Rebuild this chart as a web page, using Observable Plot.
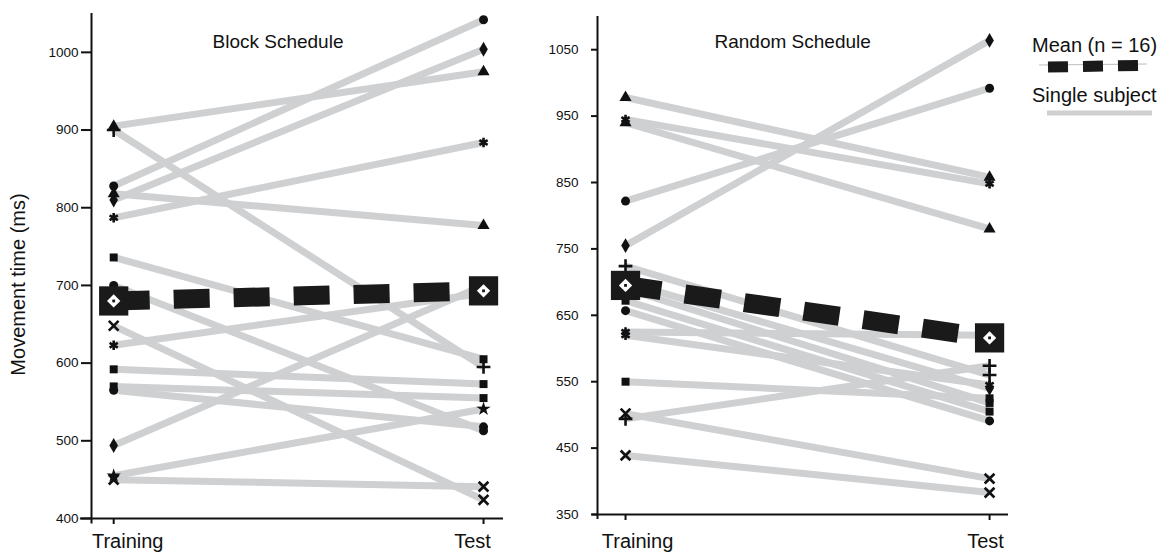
<!DOCTYPE html>
<html><head><meta charset="utf-8">
<script src="https://cdn.jsdelivr.net/npm/d3@7"></script>
<script src="https://cdn.jsdelivr.net/npm/@observablehq/plot@0.6"></script>
<style>
html,body{margin:0;padding:0;background:#fff;}
#wrap{position:relative;width:1167px;height:553px;overflow:hidden;font-family:"Liberation Sans",Arial,sans-serif;}
#left{position:absolute;left:0;top:0;}
#right{position:absolute;left:510px;top:0;}
#legend{position:absolute;left:0;top:0;pointer-events:none;}
</style></head><body>
<div id="wrap"><div id="left"></div><div id="right"></div>
<svg id="legend" width="1167" height="553" font-family="Liberation Sans, Arial, sans-serif">
  <text x="1032" y="52" font-size="20" fill="#111">Mean (n = 16)</text>
  <line x1="1039" y1="65" x2="1147" y2="64" stroke="#bdbdbd" stroke-width="1"/>
  <line x1="1048" y1="67" x2="1139" y2="65.5" stroke="#1a1a1a" stroke-width="11" stroke-dasharray="20,15"/>
  <text x="1032" y="102" font-size="20" fill="#111">Single subject</text>
  <line x1="1047" y1="113" x2="1152" y2="113" stroke="#cfd0d2" stroke-width="5"/>
</svg></div>
<script>
const phases = ["Training", "Test"];
const blockTicks = [400, 500, 600, 700, 800, 900, 1000];
const randomTicks = [350, 450, 550, 650, 750, 850, 950, 1050];

const blockTraining = [905, 900, 828, 818, 810, 787, 736, 700, 648, 623, 592, 570, 565, 494, 455, 450];
const blockTest     = [975, 595, 1042, 777, 1004, 884, 605, 513, 424, 690, 573, 555, 518, 700, 541, 441];
const blockSymbols  = ["triangle", "plus", "circle", "triangle", "diamond", "asterisk", "square", "circle", "times", "asterisk", "square", "square", "circle", "diamond", "star", "times"];
const blockMean = [680, 693];

const randomTraining = [978, 945, 940, 822, 755, 724, 700, 690, 672, 657, 625, 620, 550, 502, 494, 439];
const randomTest     = [858, 848, 780, 992, 1064, 560, 540, 518, 505, 491, 620, 545, 525, 404, 574, 383];
const randomSymbols  = ["triangle", "asterisk", "triangle", "circle", "diamond", "plus", "diamond", "square", "square", "circle", "asterisk", "asterisk", "square", "times", "plus", "times"];
const randomMean = [695, 616];

const strokeSyms = new Set(["plus", "times", "asterisk"]);
const FONT = "Liberation Sans, Arial, sans-serif";

function panel(o) {
  const idx = d3.range(o.train.length);
  const pts = idx.flatMap(i => [
    {x: 1, y: o.train[i], s: o.syms[i]},
    {x: 2, y: o.test[i], s: o.syms[i]}
  ]);
  const meanPts = o.mean.map((v, i) => ({x: i + 1, y: v}));
  const labDy = 15 + (o.mb - 35);
  const marks = [
    Plot.ruleX([o.xd[0]], {y1: o.yAxisBottom, y2: o.yd[1], stroke: "#111", strokeWidth: 2}),
    Plot.ruleY([o.yd[0]], {x1: o.xAxisLeft, x2: o.xd[1], stroke: "#111", strokeWidth: 2}),
    Plot.axisY(o.ticks, {tickSize: o.tickSize, tickPadding: o.tickPadding, tickFormat: d => String(d), fontSize: 13.5, strokeWidth: 2, label: null, fill: "#111"}),
    Plot.axisX([1, 2], {tickSize: 6, strokeWidth: 2, tickFormat: () => "", label: null}),
    Plot.text([phases[0]], {x: 1, frameAnchor: "bottom", text: d => d, dy: labDy, dx: o.trainDx, lineAnchor: "top", fontSize: 20, fill: "#111"}),
    Plot.text([phases[1]], {x: 2, frameAnchor: "bottom", text: d => d, dy: labDy, dx: o.testDx, lineAnchor: "top", fontSize: 20, fill: "#111"}),
    Plot.link(idx, {x1: () => 1, y1: i => o.train[i], x2: () => 2, y2: i => o.test[i], stroke: "#cfd0d2", strokeWidth: 7}),
    Plot.dot(pts.filter(p => !strokeSyms.has(p.s)), {x: "x", y: "y", symbol: "s", fill: "#111", r: 4.5}),
    Plot.dot(pts.filter(p => strokeSyms.has(p.s)), {x: "x", y: "y", symbol: "s", stroke: "#111", strokeWidth: 2.6, r: 4.5}),
    Plot.line(meanPts, {x: "x", y: "y", stroke: "#1a1a1a", strokeWidth: 19, strokeDasharray: "36,24", strokeLinecap: "butt", strokeLinejoin: "miter"}),
    Plot.dot(meanPts, {x: "x", y: "y", symbol: "square", fill: "#1a1a1a", r: 16.5}),
    Plot.dot(meanPts, {x: "x", y: "y", symbol: "diamond2", fill: "#fff", r: 6}),
    Plot.dot(meanPts, {x: "x", y: "y", symbol: "square", fill: "#1a1a1a", r: 1.6}),
    Plot.text([o.title], {frameAnchor: "top-left", text: d => d, dx: o.titleDx, dy: o.titleDy, textAnchor: "start", lineAnchor: "top", fontSize: 19, fill: "#111"})
  ];
  if (o.ylabel) {
    marks.push(Plot.text([o.ylabel], {frameAnchor: "left", text: d => d, rotate: -90, dx: -73, dy: 18.5, textAnchor: "middle", lineAnchor: "middle", fontSize: 20, fill: "#111"}));
  }
  return Plot.plot({
    width: 510, height: 553,
    marginLeft: o.ml, marginRight: o.mr, marginTop: o.mt, marginBottom: o.mb,
    x: {domain: o.xd, axis: null},
    y: {domain: o.yd, axis: null},
    style: {fontFamily: FONT, background: "transparent", overflow: "visible", color: "#111"},
    marks
  });
}

document.getElementById("left").append(panel({
  train: blockTraining, test: blockTest, syms: blockSymbols, mean: blockMean,
  ticks: blockTicks, title: "Block Schedule", ylabel: "Movement time (ms)",
  ml: 91, mr: 7, mt: 13, mb: 35,
  xd: [0.94, 2.054], yd: [400, 1050], yAxisBottom: 393, xAxisLeft: 0.91,
  tickSize: 10, tickPadding: 3, trainDx: 14, testDx: -11,
  titleDx: 121, titleDy: 21
}));

document.getElementById("right").append(panel({
  train: randomTraining, test: randomTest, syms: randomSymbols, mean: randomMean,
  ticks: randomTicks, title: "Random Schedule", ylabel: null,
  ml: 87, mr: 12, mt: 16, mb: 39,
  xd: [0.923, 2.052], yd: [350, 1100], yAxisBottom: 342.5, xAxisLeft: 0.909,
  tickSize: 6, tickPadding: 13, trainDx: 12, testDx: -4,
  titleDx: 117, titleDy: 17.5
}));
</script>
</body></html>
